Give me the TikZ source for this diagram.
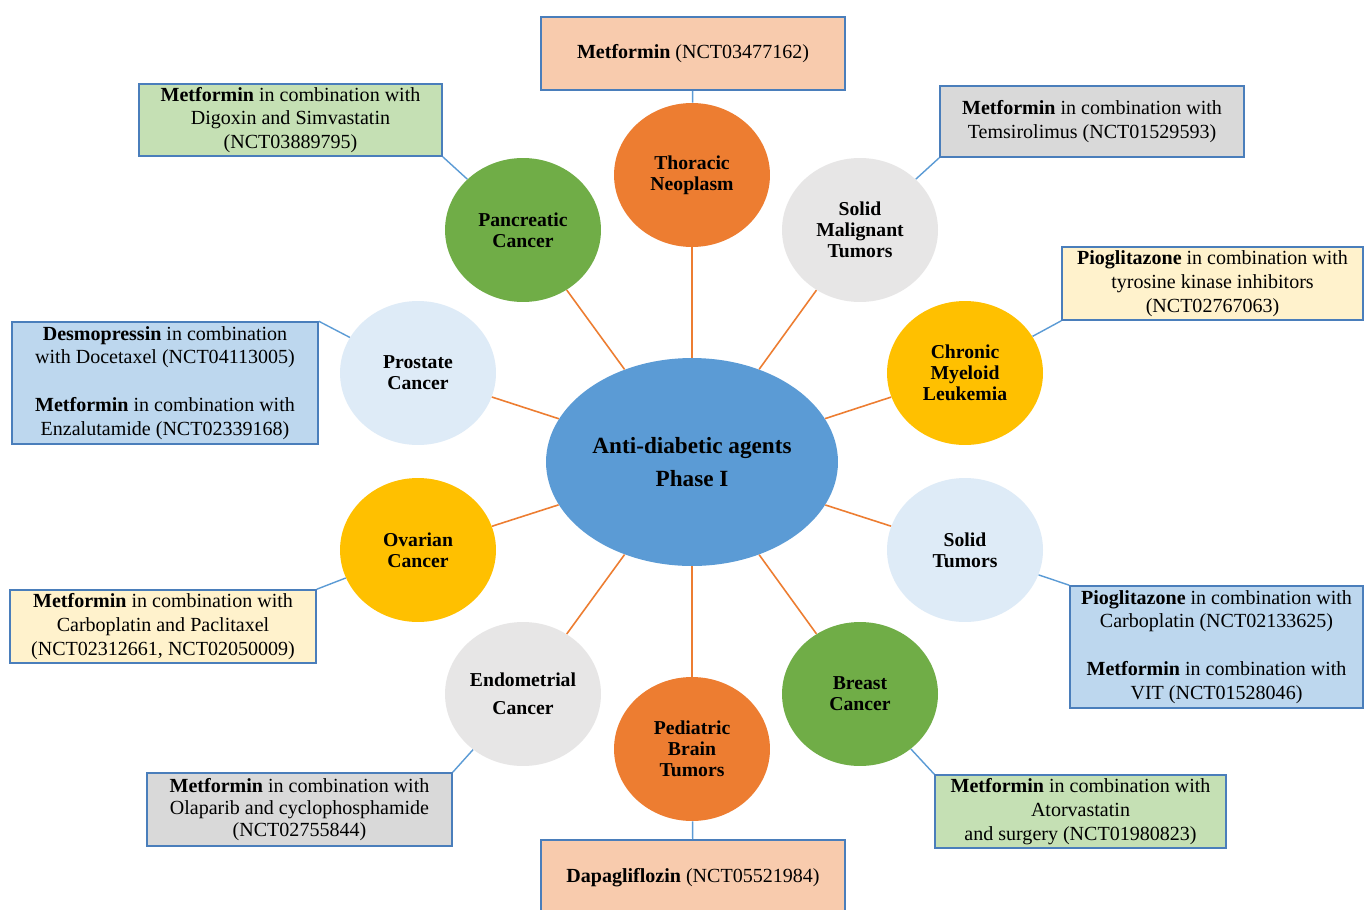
\documentclass[tikz,border=0pt]{standalone}
\usepackage{fontspec}
\setmainfont{Liberation Serif}
\usetikzlibrary{shapes.geometric}
\definecolor{hubblue}{HTML}{5B9BD5}
\definecolor{tumorange}{HTML}{ED7D31}
\definecolor{tumgreen}{HTML}{70AD47}
\definecolor{tumgold}{HTML}{FFC000}
\definecolor{tumgrey}{HTML}{E7E6E6}
\definecolor{tumsky}{HTML}{DEEBF7}
\definecolor{boxpeach}{HTML}{F8CBAD}
\definecolor{boxgreen}{HTML}{C5E0B4}
\definecolor{boxgrey}{HTML}{D9D9D9}
\definecolor{boxcream}{HTML}{FFF2CC}
\definecolor{boxsky}{HTML}{BDD7EE}
\definecolor{boxedge}{HTML}{4A7EBB}
\definecolor{tieblue}{HTML}{5B9BD5}

\begin{document}
\begin{tikzpicture}[x=0.02cm, y=-0.02cm,
    tumour/.style={ellipse, minimum width=3.12cm, minimum height=2.88cm, inner sep=0pt,
      align=center, font=\fontsize{11.2}{12}\selectfont\bfseries},
    trial/.style={draw=boxedge, line width=0.9pt, inner sep=0pt, align=center,
      font=\fontsize{11.4}{13.6}\selectfont},
    spoke/.style={tumorange, line width=0.9pt},
    tielink/.style={tieblue, line width=0.8pt}]
    \useasboundingbox (0,0) rectangle (1364,909);
    \clip (0,0) rectangle (1364,909);
    \fill[white] (0,0) rectangle (1364,909);
    % centre
    \node[ellipse, fill=hubblue, minimum width=5.84cm, minimum height=4.16cm, inner sep=0pt,
      align=center, font=\fontsize{13.2}{18.7}\selectfont\bfseries] (hub) at (692,462)
      {Anti-diabetic agents\\Phase I};
    % cancers
    \node[tumour, fill=tumorange] (thor) at (692,175) {Thoracic\\Neoplasm};
    \node[tumour, fill=tumgreen] (panc) at (523,230) {Pancreatic\\Cancer};
    \node[tumour, fill=tumgrey] (solm) at (860,230) {Solid\\Malignant\\Tumors};
    \node[tumour, fill=tumsky] (pros) at (418,373) {Prostate\\Cancer};
    \node[tumour, fill=tumgold] (cml) at (965,373) {Chronic\\Myeloid\\Leukemia};
    \node[tumour, fill=tumgold] (ovar) at (418,550) {Ovarian\\Cancer};
    \node[tumour, fill=tumsky] (solt) at (965,550) {Solid\\Tumors};
    \node[tumour, fill=tumgrey] (endo) at (523,694) {Endometrial\\[4pt]Cancer};
    \node[tumour, fill=tumgreen] (brea) at (860,694) {Breast\\Cancer};
    \node[tumour, fill=tumorange] (pedi) at (692,749) {Pediatric\\Brain\\Tumors};
    % trials
    \node[trial, fill=boxpeach, minimum width=6.08cm, minimum height=1.46cm] (thorbox)
      at (693,53.5) {\textbf{Metformin} (NCT03477162)};
    \node[trial, fill=boxgreen, minimum width=6.06cm, minimum height=1.44cm] (pancbox)
      at (290.5,120) {\textbf{Metformin} in combination with\\Digoxin and Simvastatin\\(NCT03889795)};
    \node[trial, fill=boxgrey, minimum width=6.08cm, minimum height=1.42cm] (solmbox)
      at (1092,121.5) {\textbf{Metformin} in combination with\\Temsirolimus (NCT01529593)};
    \node[trial, fill=boxcream, minimum width=6.02cm, minimum height=1.46cm] (cmlbox)
      at (1212.5,283.5) {\textbf{Pioglitazone} in combination with\\tyrosine kinase inhibitors\\(NCT02767063)};
    \node[trial, fill=boxsky, minimum width=6.12cm, minimum height=2.44cm] (prosbox)
      at (165,383) {\textbf{Desmopressin} in combination\\with Docetaxel (NCT04113005)\\[13.6pt]
      \textbf{Metformin} in combination with\\Enzalutamide (NCT02339168)};
    \node[trial, fill=boxcream, minimum width=6.12cm, minimum height=1.46cm] (ovarbox)
      at (163,626.5) {\textbf{Metformin} in combination with\\Carboplatin and Paclitaxel\\(NCT02312661, NCT02050009)};
    \node[trial, fill=boxsky, minimum width=5.86cm, minimum height=2.44cm] (soltbox)
      at (1216.5,647) {\textbf{Pioglitazone} in combination with\\Carboplatin (NCT02133625)\\[13.6pt]
      \textbf{Metformin} in combination with\\VIT (NCT01528046)};
    \node[trial, fill=boxgrey, minimum width=6.10cm, minimum height=1.46cm,
      font=\fontsize{11.4}{12.6}\selectfont] (endobox)
      at (299.5,809.5) {\textbf{Metformin} in combination with\\Olaparib and cyclophosphamide\\(NCT02755844)};
    \node[trial, fill=boxgreen, minimum width=5.82cm, minimum height=1.46cm] (breabox)
      at (1080.5,811.5) {\textbf{Metformin} in combination with\\Atorvastatin\\and surgery (NCT01980823)};
    \node[trial, fill=boxpeach, minimum width=6.08cm, minimum height=1.52cm] (pedibox)
      at (693,878) {\textbf{Dapagliflozin} (NCT05521984)};
    % spokes
    \foreach \c in {thor,panc,solm,pros,cml,ovar,solt,endo,brea,pedi}
      \draw[spoke] (hub) -- (\c);
    % ties to boxes
    \draw[tielink] (thor) -- (thorbox);
    \draw[tielink] (panc) -- (pancbox.south east);
    \draw[tielink] (solm) -- (solmbox.south west);
    \draw[tielink] (pros) -- (prosbox.north east);
    \draw[tielink] (cml) -- (cmlbox.south west);
    \draw[tielink] (ovar) -- (ovarbox.north east);
    \draw[tielink] (solt) -- (soltbox.north west);
    \draw[tielink] (endo) -- (endobox.north east);
    \draw[tielink] (brea) -- (breabox.north west);
    \draw[tielink] (pedi) -- (pedibox);
  \end{tikzpicture}
\end{document}
